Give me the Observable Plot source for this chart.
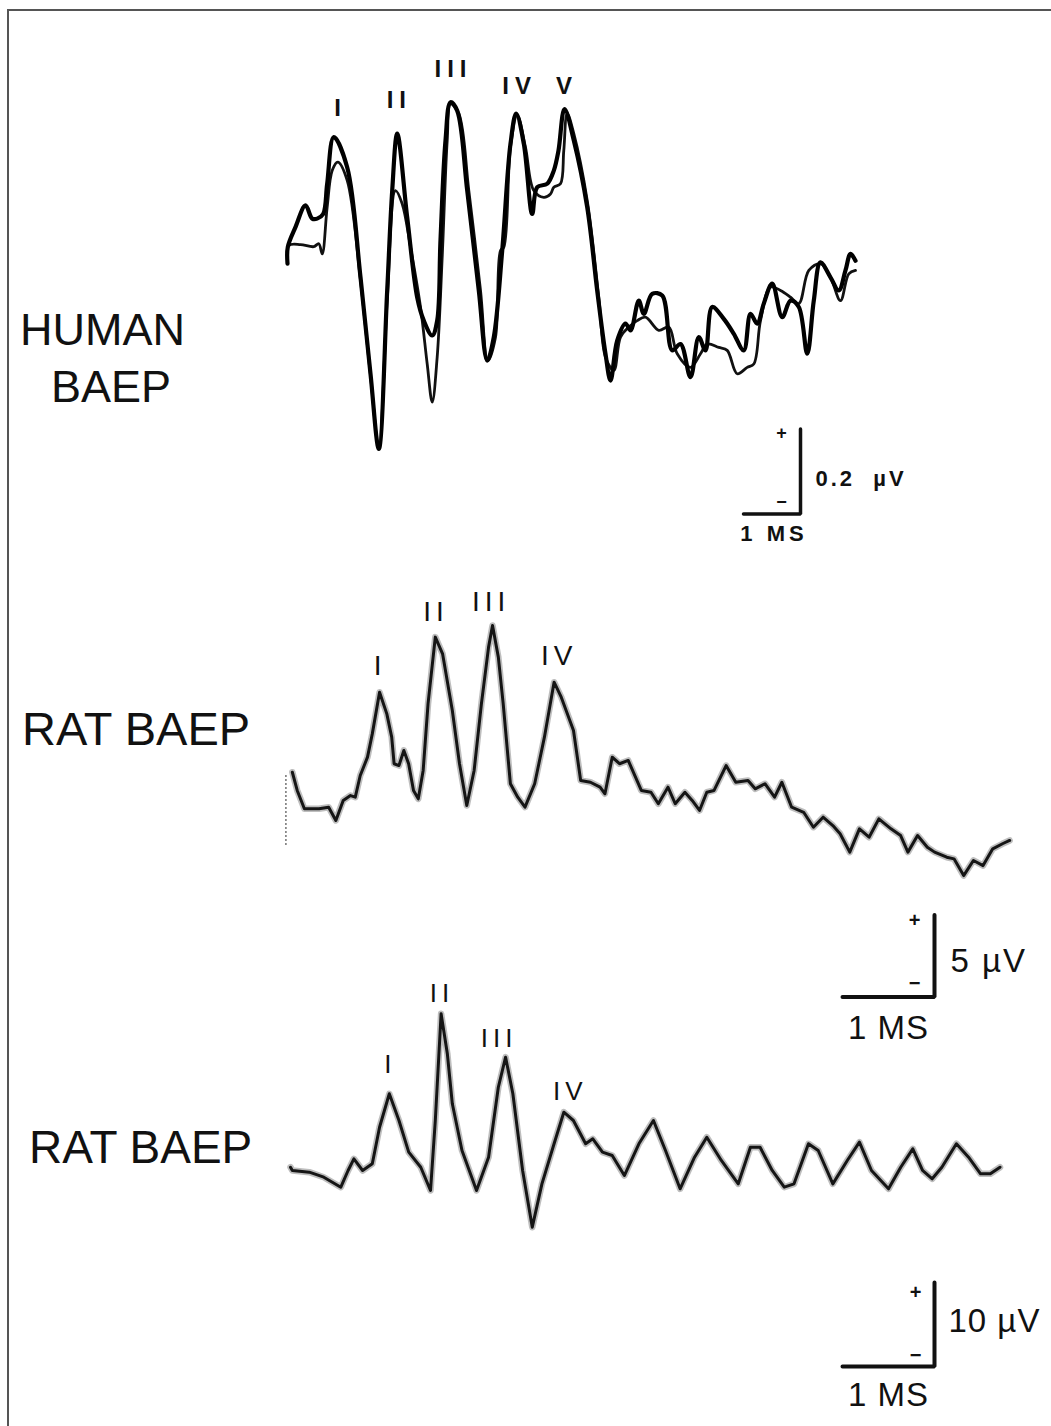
<!DOCTYPE html>
<html><head><meta charset="utf-8">
<script src="https://cdn.jsdelivr.net/npm/d3@7"></script>
<script src="https://cdn.jsdelivr.net/npm/@observablehq/plot@0.6"></script>
<style>
html,body{margin:0;padding:0;background:#fff;}
#page{position:relative;width:1051px;height:1426px;overflow:hidden;font-family:"Liberation Sans",Arial,Helvetica,sans-serif;background:#fff;}
#frame{position:absolute;left:7px;top:9px;right:-10px;bottom:-10px;border-left:2px solid #555;border-top:2px solid #555;}
.panel{position:absolute;left:0;top:0;}
.lab{position:absolute;font-size:45px;line-height:45px;color:#111;white-space:nowrap;}
</style></head><body>
<div id="page"><div id="frame"></div></div>
<script>
// ---------- DATA (time in ms, amplitude in µV) ----------
// Human BAEP, trace A
const humanTimeA = [0.00,0.005,0.140,0.316,0.433,0.521,0.626,0.696,0.812,1.047,1.281,1.456,1.602,1.749,1.837,1.925,2.100,2.275,2.391,2.539,2.626,2.684,2.772,2.860,2.977,3.153,3.356,3.504,3.619,3.767,3.912,4.012,4.146,4.293,4.381,4.556,4.672,4.754,4.860,5.023,5.258,5.433,5.579,5.667,5.784,5.930,6.018,6.163,6.251,6.398,6.574,6.749,6.895,7.070,7.216,7.333,7.451,7.654,7.830,8.005,8.123,8.240,8.356,8.504,8.679,8.825,8.970,9.118,9.233,9.351,9.526,9.672,9.789,9.877,9.965];
const humanAmpA  = [-0.031,0.008,0.055,0.106,0.075,0.075,0.086,0.157,0.267,0.196,-0.063,-0.290,-0.467,-0.094,0.141,0.275,0.078,-0.110,-0.165,-0.200,-0.165,0.024,0.259,0.349,0.329,0.141,-0.094,-0.259,-0.204,0.000,0.251,0.322,0.251,0.086,0.149,0.157,0.188,0.235,0.333,0.259,0.102,-0.094,-0.243,-0.306,-0.212,-0.172,-0.188,-0.118,-0.149,-0.102,-0.106,-0.235,-0.220,-0.298,-0.204,-0.235,-0.133,-0.161,-0.196,-0.235,-0.149,-0.172,-0.125,-0.078,-0.157,-0.118,-0.133,-0.243,-0.118,-0.028,-0.063,-0.094,-0.047,-0.008,-0.024];
// Human BAEP, trace B
const humanTimeB = [0.00,0.023,0.228,0.461,0.549,0.609,0.696,0.784,0.882,1.047,1.281,1.456,1.602,1.749,1.895,2.012,2.158,2.333,2.451,2.539,2.626,2.714,2.802,2.860,3.005,3.181,3.386,3.514,3.649,3.737,3.795,3.912,4.030,4.175,4.321,4.496,4.614,4.672,4.789,4.847,4.907,5.023,5.258,5.461,5.579,5.725,5.842,5.988,6.135,6.281,6.514,6.689,6.837,7.070,7.246,7.363,7.567,7.714,7.889,8.065,8.181,8.298,8.474,8.649,8.825,8.970,9.146,9.351,9.526,9.702,9.847,9.965];
const humanAmpB  = [-0.024,0.012,0.014,0.009,0.016,-0.008,0.102,0.188,0.208,0.165,-0.071,-0.294,-0.461,-0.118,0.141,0.110,0.008,-0.133,-0.267,-0.357,-0.251,-0.016,0.259,0.345,0.322,0.141,-0.094,-0.259,-0.204,0.000,0.008,0.243,0.318,0.243,0.141,0.125,0.133,0.149,0.157,0.235,0.322,0.275,0.118,-0.110,-0.251,-0.282,-0.204,-0.180,-0.165,-0.157,-0.188,-0.180,-0.243,-0.275,-0.243,-0.220,-0.228,-0.235,-0.290,-0.275,-0.267,-0.165,-0.086,-0.094,-0.110,-0.125,-0.047,-0.031,-0.063,-0.118,-0.055,-0.047];
const humanPeakNames = ["I","II","III","IV","V"];
const humanPeakTime  = [0.877,1.91,2.86,4.02,4.85];
const humanPeakAmp   = [0.334,0.353,0.426,0.386,0.386];

// Rat BAEP 1
const rat1Time = [0.020,0.073,0.151,0.310,0.415,0.493,0.573,0.652,0.704,0.758,0.837,0.889,0.968,1.047,1.100,1.126,1.179,1.232,1.284,1.337,1.389,1.442,1.495,1.574,1.653,1.759,1.837,1.916,1.996,2.075,2.153,2.196,2.259,2.312,2.390,2.470,2.549,2.654,2.760,2.865,2.943,3.023,3.076,3.154,3.260,3.365,3.418,3.497,3.576,3.671,3.813,3.918,3.998,4.103,4.182,4.287,4.366,4.446,4.525,4.604,4.735,4.840,4.973,5.051,5.157,5.262,5.341,5.447,5.578,5.684,5.789,5.895,5.974,6.079,6.184,6.289,6.395,6.527,6.632,6.711,6.816,6.922,7.001,7.133,7.212,7.317,7.423,7.528,7.633,7.739,7.817];
const rat1Amp  = [2.21,1.10,-0.02,-0.02,0.08,-0.73,0.49,0.79,0.69,2.01,3.13,4.55,7.09,5.77,4.35,2.73,2.62,3.54,2.73,1.10,0.59,2.32,6.38,10.45,9.43,5.98,2.73,0.18,2.32,6.38,9.84,11.16,9.23,6.38,1.51,0.69,0.08,1.51,4.35,7.70,6.79,5.57,4.76,1.71,1.60,1.30,0.90,3.13,2.73,2.93,1.10,0.99,0.29,1.30,0.29,0.99,0.49,-0.12,0.99,1.10,2.62,1.60,1.71,1.20,1.51,0.69,1.60,0.08,-0.23,-1.14,-0.53,-1.04,-1.54,-2.66,-1.24,-1.75,-0.63,-1.24,-1.65,-2.66,-1.65,-2.36,-2.66,-2.97,-3.07,-4.09,-3.17,-3.48,-2.46,-2.15,-1.95];
const rat1PeakNames = ["I","II","III","IV"];
const rat1PeakTime  = [0.952,1.56,2.16,2.90];
const rat1PeakAmp   = [8.66,11.95,12.56,9.27];
const rat1StartMarkTime = [-0.05];
const rat1StartMarkAmp  = [2.0,-2.4];

// Rat BAEP 2
const rat2Time = [0.00,0.020,0.204,0.362,0.547,0.626,0.689,0.784,0.889,0.968,1.074,1.179,1.285,1.416,1.522,1.574,1.637,1.705,1.759,1.864,2.022,2.153,2.259,2.338,2.417,2.523,2.628,2.733,2.865,2.971,3.075,3.208,3.286,3.391,3.497,3.629,3.787,3.945,4.076,4.235,4.392,4.525,4.683,4.867,4.999,5.104,5.236,5.367,5.473,5.630,5.736,5.895,6.052,6.184,6.315,6.500,6.633,6.764,6.870,6.975,7.080,7.238,7.370,7.501,7.607,7.712];
const rat2Amp  = [0.63,0.24,0.04,-0.56,-1.75,0.24,1.63,0.24,1.04,5.39,9.37,6.19,2.42,0.63,-2.14,6.19,18.89,14.13,8.18,2.62,-2.14,1.82,10.15,13.73,9.37,0.24,-6.51,-1.35,3.42,7.18,6.19,3.42,4.01,2.42,2.02,-0.36,3.42,6.19,2.62,-1.94,1.82,4.20,1.43,-1.35,3.01,3.01,0.24,-1.75,-1.35,3.42,2.62,-1.35,1.43,3.61,0.24,-1.94,0.63,2.82,0.24,-0.75,0.63,3.42,1.82,-0.15,-0.15,0.63];
const rat2PeakNames = ["I","II","III","IV"];
const rat2PeakTime  = [1.063,1.626,2.245,3.02];
const rat2PeakAmp   = [12.86,21.3,15.95,9.64];

// Calibration bars: time length (ms), amplitude (µV), anchor (ms, µV)
const humanCalMs = 1, humanCalUV = 0.2, humanCalStart = [8.0, -0.62];
const rat1CalMs  = 1, rat1CalUV  = 5,   rat1CalStart  = [6.0, -11.5];
const rat2CalMs  = 1, rat2CalUV  = 10,  rat2CalStart  = [6.0, -23.1];

// Panel titles
const titles = [["HUMAN","BAEP"],["RAT BAEP"],["RAT BAEP"]];

// ---------- BUILD ----------
const zip = (T, V) => T.map((t, i) => ({t, v: V[i]}));
const W = 1051, H = 1426;
const page = document.getElementById("page");

function calBar(start, ms, uv) {
  return [{t: start[0], v: start[1]}, {t: start[0] + ms, v: start[1]}, {t: start[0] + ms, v: start[1] + uv}];
}

function panel(layout, marks, spacingRules) {
  const {x0, pxPerMs, y0, pxPerUnit} = layout;
  const svg = Plot.plot({
    width: W, height: H, margin: 0,
    x: {domain: [-x0 / pxPerMs, (W - x0) / pxPerMs], axis: null},
    y: {domain: [(y0 - H) / pxPerUnit, y0 / pxPerUnit], axis: null},
    style: {background: "transparent", overflow: "visible", fontFamily: "Liberation Sans, Arial, sans-serif"},
    marks
  });
  svg.classList.add("panel");
  // letter spacing applied to text elements by their content
  d3.select(svg).selectAll("text").each(function () {
    const s = this.textContent;
    for (const [test, ls] of spacingRules) {
      if (test(s)) { this.setAttribute("letter-spacing", ls); this.style.letterSpacing = ls + "px"; break; }
    }
  });
  page.appendChild(svg);
}

function calMarks(start, ms, uv, unitLabel, opts) {
  const bar = calBar(start, ms, uv);
  const endT = start[0] + ms;
  return [
    Plot.line(bar, {x: "t", y: "v", stroke: "#111", strokeWidth: opts.bw, strokeLinejoin: "miter"}),
    Plot.text([{t: endT, v: start[1] + uv / 2}], {x: "t", y: "v", text: () => unitLabel, textAnchor: "start", dx: opts.unitDx, dy: opts.unitDy, fontSize: opts.fs, fontWeight: opts.fw, fill: "#111"}),
    Plot.text([{t: start[0] + ms / 2, v: start[1]}], {x: "t", y: "v", text: () => `${ms} MS`, dx: opts.msDx, dy: opts.msDy, fontSize: opts.fs, fontWeight: opts.fw, fill: "#111"}),
    Plot.text([{t: endT, v: start[1] + uv}], {x: "t", y: "v", text: () => "+", dx: opts.signDx, dy: opts.plusDy, fontSize: opts.signFs, fontWeight: "bold", fill: "#111"}),
    Plot.text([{t: endT, v: start[1]}], {x: "t", y: "v", text: () => "\u2212", dx: opts.signDx, dy: opts.minusDy, fontSize: opts.signFs, fontWeight: "bold", fill: "#111"})
  ];
}

const isPeak = s => /^[IV]+$/.test(s);
const isUnit = s => s.includes("\u00b5V");
const isMs = s => s.endsWith("MS");

// Human panel
panel({x0: 287, pxPerMs: 57, y0: 250, pxPerUnit: 425}, [
  Plot.line(zip(humanTimeB, humanAmpB), {x: "t", y: "v", stroke: "#111", strokeWidth: 2.8, curve: "catmull-rom"}),
  Plot.line(zip(humanTimeA, humanAmpA), {x: "t", y: "v", stroke: "#000", strokeWidth: 4.2, curve: "catmull-rom"}),
  Plot.text(humanPeakNames.map((n, i) => ({n, t: humanPeakTime[i], v: humanPeakAmp[i]})),
    {x: "t", y: "v", text: "n", fontSize: 24, fontWeight: "bold", fill: "#111", dx: 3}),
  ...calMarks(humanCalStart, humanCalMs, humanCalUV, "0.2  \u00b5V",
    {bw: 3.5, fs: 22, fw: "bold", unitDx: 15, unitDy: 7, msDx: 2, msDy: 20, signDx: -19, plusDy: 4, minusDy: -12, signFs: 18})
], [[isPeak, 6], [isUnit, 3], [isMs, 4]]);

// Rat 1 panel
panel({x0: 290, pxPerMs: 92, y0: 808, pxPerUnit: 16.4}, [
  Plot.ruleX(rat1StartMarkTime, {y1: rat1StartMarkAmp[0], y2: rat1StartMarkAmp[1], stroke: "#444", strokeWidth: 1.5, strokeDasharray: "1.5,2.5"}),
  Plot.line(zip(rat1Time, rat1Amp), {x: "t", y: "v", stroke: "#888", strokeOpacity: 0.55, strokeWidth: 6.5}),
  Plot.line(zip(rat1Time, rat1Amp), {x: "t", y: "v", stroke: "#151515", strokeWidth: 3}),
  Plot.text(rat1PeakNames.map((n, i) => ({n, t: rat1PeakTime[i], v: rat1PeakAmp[i]})),
    {x: "t", y: "v", text: "n", fontSize: 28, fill: "#111", dx: 2}),
  ...calMarks(rat1CalStart, rat1CalMs, rat1CalUV, "5 \u00b5V",
    {bw: 4, fs: 33, fw: "normal", unitDx: 16, unitDy: 5, msDx: 0, msDy: 31, signDx: -20, plusDy: 5, minusDy: -14, signFs: 20})
], [[isPeak, 5], [isUnit, 2], [isMs, 1]]);

// Rat 2 panel
panel({x0: 290, pxPerMs: 92, y0: 1172, pxPerUnit: 8.4}, [
  Plot.line(zip(rat2Time, rat2Amp), {x: "t", y: "v", stroke: "#888", strokeOpacity: 0.55, strokeWidth: 6.5}),
  Plot.line(zip(rat2Time, rat2Amp), {x: "t", y: "v", stroke: "#151515", strokeWidth: 3}),
  Plot.text(rat2PeakNames.map((n, i) => ({n, t: rat2PeakTime[i], v: rat2PeakAmp[i]})),
    {x: "t", y: "v", text: "n", fontSize: 26, fill: "#111", dx: 2}),
  ...calMarks(rat2CalStart, rat2CalMs, rat2CalUV, "10 \u00b5V",
    {bw: 4, fs: 33, fw: "normal", unitDx: 14, unitDy: -3, msDx: 0, msDy: 29, signDx: -19, plusDy: 10, minusDy: -11, signFs: 20})
], [[isPeak, 5], [isUnit, 1], [isMs, 1]]);

// Panel titles (HTML text)
function title(lines, left, baseline, size) {
  lines.forEach((s, i) => {
    const d = document.createElement("div");
    d.className = "lab";
    d.textContent = s;
    d.style.fontSize = size + "px";
    d.style.lineHeight = size + "px";
    d.style.top = (baseline[i] - Math.round(size * 0.85)) + "px";
    d.style.left = left + "px";
    page.appendChild(d);
  });
}
title([titles[0][0]], 20, [345], 45);
title([titles[0][1]], 51, [402], 45);
title(titles[1], 22, [745], 47);
title(titles[2], 29, [1163], 46);
</script>
</body></html>
